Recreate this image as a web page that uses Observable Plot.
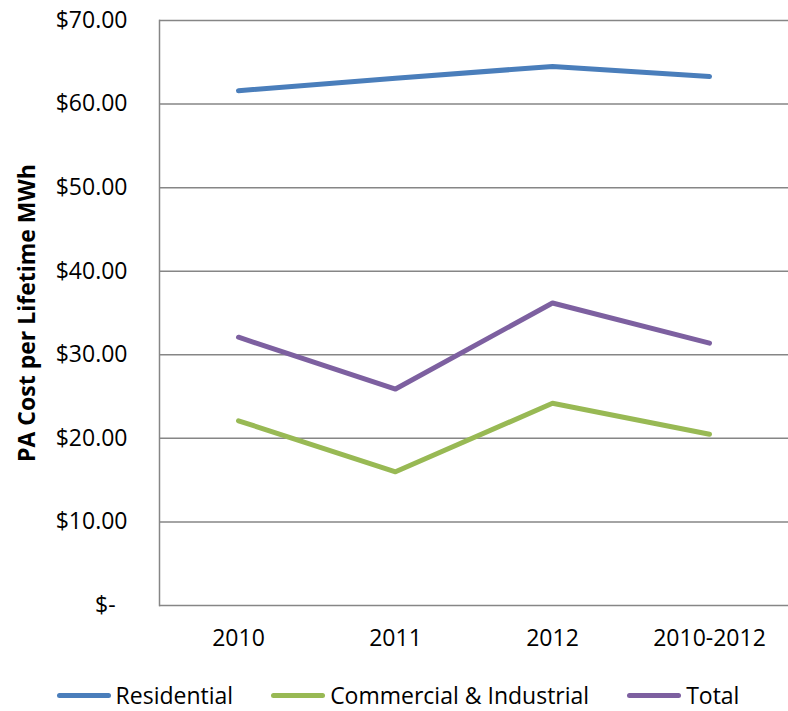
<!DOCTYPE html>
<html>
<head>
<meta charset="utf-8">
<script src="https://cdn.jsdelivr.net/npm/d3@7"></script>
<script src="https://cdn.jsdelivr.net/npm/@observablehq/plot@0.6"></script>
<style>
  html, body { margin: 0; padding: 0; background: #fff; }
  body { width: 788px; height: 711px; overflow: hidden; font-family: "Open Sans", sans-serif; }
  #chart svg { display: block; font-family: "Open Sans", sans-serif; }
  [aria-label="y-axis label"] text { font-weight: bold; }
  #legend { display: flex; justify-content: center; align-items: center; margin-top: 13px; height: 28px; padding-left: 8px;
            font-size: 23px; color: #000; }
  .item { display: flex; align-items: center; margin: 0 19px; }
  .sw { width: 54px; height: 5px; border-radius: 3px; margin-right: 5px; }
</style>
</head>
<body>
<div id="chart"></div>
<div id="legend"></div>
<script>
const categories = ["2010", "2011", "2012", "2010-2012"];
const series = ["Residential", "Commercial & Industrial", "Total"];
const residential = [61.6, 63.1, 64.5, 63.3];
const commercial = [22.1, 16.0, 24.2, 20.5];
const total = [32.1, 25.9, 36.2, 31.4];
const colors = ["#4A7EBB", "#98B954", "#7D60A0"];
const yTicks = [0, 10, 20, 30, 40, 50, 60, 70];

const valuesBySeries = [residential, commercial, total];
const data = [];
series.forEach((s, i) => categories.forEach((c, j) => data.push({series: s, cat: c, value: valuesBySeries[i][j]})));

const chart = Plot.plot({
  width: 788,
  height: 668,
  marginTop: 20,
  marginBottom: 63,
  marginLeft: 159,
  marginRight: 0,
  style: {fontSize: "23px", fontFamily: "Open Sans, sans-serif", color: "#000"},
  x: {type: "point", domain: categories, padding: 0.5},
  y: {domain: [0, 70]},
  color: {domain: series, range: colors},
  marks: [
    Plot.gridY(yTicks, {stroke: "#868686", strokeOpacity: 1, strokeWidth: 1.5}),
    Plot.frame({anchor: "left", stroke: "#868686", strokeWidth: 1.5}),
    Plot.axisY(yTicks, {
      tickSize: 0, tickPadding: 32, fontSize: 23,
      tickFormat: d => d === 0 ? "$-\u00a0\u00a0" : "$" + d.toFixed(2),
      label: "PA Cost per Lifetime MWh", labelAnchor: "center", labelArrow: false, labelOffset: 141
    }),
    Plot.axisX({tickSize: 0, tickPadding: 24, fontSize: 23, label: null}),
    Plot.line(data, {x: "cat", y: "value", z: "series", stroke: "series", strokeWidth: 5, strokeLinecap: "round", strokeLinejoin: "round"})
  ]
});
document.getElementById("chart").appendChild(chart);

const legend = document.getElementById("legend");
series.forEach((s, i) => {
  const item = document.createElement("div");
  item.className = "item";
  const sw = document.createElement("div");
  sw.className = "sw";
  sw.style.background = colors[i];
  const t = document.createElement("span");
  t.textContent = s;
  item.appendChild(sw);
  item.appendChild(t);
  legend.appendChild(item);
});
</script>
</body>
</html>
